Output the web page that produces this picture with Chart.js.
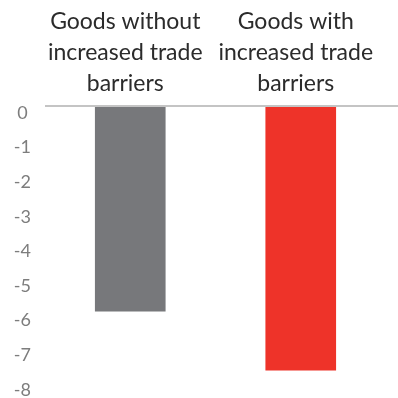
<!DOCTYPE html>
<html>
<head>
<meta charset="utf-8">
<script src="https://cdn.jsdelivr.net/npm/chart.js@4.4.1/dist/chart.umd.min.js"></script>
<style>
  html, body { margin: 0; padding: 0; background: #fff; }
  #wrap { width: 398px; height: 398px; }
</style>
</head>
<body>
<div id="wrap"><canvas id="tradeChart"></canvas></div>
<script>
// categories (multi-line labels) and values
const categories = [
  ["Goods without", "increased trade", "barriers"],
  ["Goods with", "increased trade", "barriers"]
];
const values = [-5.9, -7.6];
const barColors = ["#77787b", "#ee3329"];
const yMin = -8;
const yMax = 0;

// draws the light zero line across to the right edge
const zeroLine = {
  id: "zeroLine",
  afterDatasetsDraw(chart) {
    const y = chart.scales.y.getPixelForValue(0);
    const ctx = chart.ctx;
    ctx.save();
    ctx.strokeStyle = "#c4c4c4";
    ctx.lineWidth = 2;
    ctx.beginPath();
    ctx.moveTo(chart.chartArea.left, y - 1);
    ctx.lineTo(chart.width, y - 1);
    ctx.stroke();
    ctx.restore();
  }
};

const ctx = document.getElementById("tradeChart");

new Chart(ctx, {
  type: "bar",
  data: {
    labels: categories,
    datasets: [{
      data: values,
      backgroundColor: barColors,
      borderWidth: 0,
      barThickness: 70
    }]
  },
  options: {
    responsive: true,
    maintainAspectRatio: false,
    animation: false,
    layout: { padding: { top: 0, right: 12, bottom: 0, left: 0 } },
    plugins: {
      legend: { display: false },
      tooltip: { enabled: false }
    },
    scales: {
      x: {
        position: "top",
        grid: { display: false },
        border: { display: false },
        ticks: {
          color: "#2b2b2b",
          font: { family: "Lato", size: 23, lineHeight: 1.34 },
          padding: 0,
          labelOffset: -5
        },
        afterFit(scale) { scale.height = 107; }
      },
      y: {
        min: yMin,
        max: yMax,
        grid: { display: false },
        border: { display: false },
        ticks: {
          stepSize: 1,
          color: "#7d7d7d",
          font: { family: "Lato", size: 18, lineHeight: 0.9 },
          crossAlign: "center",
          labelOffset: 6,
          padding: 6
        },
        afterFit(scale) { scale.width = 45; }
      }
    }
  },
  plugins: [zeroLine]
});
</script>
</body>
</html>
